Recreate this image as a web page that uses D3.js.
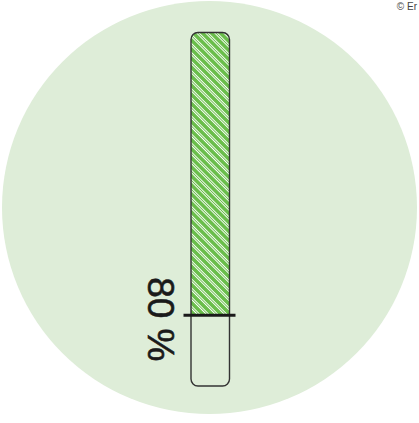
<!DOCTYPE html>
<html>
<head>
<meta charset="utf-8">
<script src="https://cdn.jsdelivr.net/npm/d3@7"></script>
<style>
  html, body { margin: 0; padding: 0; background: #ffffff; overflow: hidden; }
  svg { display: block; }
</style>
</head>
<body>
<svg id="chart" width="419" height="423"></svg>
<script>
// Fill level of the gauge, in percent
const categories = ["Andel"];
const values = [80];
const valueLabels = ["80 %"];
const domainPct = [0, 100];
const credit = "© Er";

const W = 419, H = 423;
const svg = d3.select("#chart");

// Background disc
svg.append("ellipse")
  .attr("cx", 209.5).attr("cy", 207.5)
  .attr("rx", 207.5).attr("ry", 206.5)
  .attr("fill", "#deedd8");

// Diagonal hatch for the filled part
const defs = svg.append("defs");
const pat = defs.append("pattern")
  .attr("id", "hatch")
  .attr("patternUnits", "userSpaceOnUse")
  .attr("width", 6.4).attr("height", 10)
  .attr("patternTransform", "rotate(-45)");
pat.append("rect").attr("width", 6.4).attr("height", 10).attr("fill", "#6abe4b");
pat.append("rect").attr("x", 0).attr("width", 0.9).attr("height", 10).attr("fill", "#ffffff");
pat.append("rect").attr("x", 1.8).attr("width", 0.9).attr("height", 10).attr("fill", "#ffffff");

const barX = d3.scaleBand().domain(categories).range([191, 229.5]).padding(0);
const y = d3.scaleLinear().domain(domainPct).range([32.5, 386]);

const clip = defs.append("clipPath").attr("id", "tube");
clip.append("rect")
  .attr("x", barX(categories[0])).attr("y", y(0))
  .attr("width", barX.bandwidth()).attr("height", y(100) - y(0))
  .attr("rx", 7).attr("ry", 7);

const g = svg.append("g");

// Filled portion (from the top of the tube down to the value)
g.selectAll("rect.fill")
  .data(values)
  .join("rect")
  .attr("class", "fill")
  .attr("clip-path", "url(#tube)")
  .attr("x", (d, i) => barX(categories[i]))
  .attr("y", y(0))
  .attr("width", barX.bandwidth())
  .attr("height", d => y(d) - y(0))
  .attr("fill", "url(#hatch)");

// Tube outline
g.selectAll("rect.tube")
  .data(categories)
  .join("rect")
  .attr("class", "tube")
  .attr("x", d => barX(d)).attr("y", y(0))
  .attr("width", barX.bandwidth()).attr("height", y(100) - y(0))
  .attr("rx", 7).attr("ry", 7)
  .attr("fill", "none")
  .attr("stroke", "#333333")
  .attr("stroke-width", 1.4);

// Level marker
g.selectAll("line.level")
  .data(values)
  .join("line")
  .attr("class", "level")
  .attr("x1", (d, i) => barX(categories[i]) - 7.5)
  .attr("x2", (d, i) => barX(categories[i]) + barX.bandwidth() + 6)
  .attr("y1", d => y(d)).attr("y2", d => y(d))
  .attr("stroke", "#1a1a1a")
  .attr("stroke-width", 3);

// Value label, rotated along the tube
g.selectAll("text.value")
  .data(values)
  .join("text")
  .attr("class", "value")
  .attr("transform", (d, i) => `translate(148,${y(d) + 4}) rotate(90)`)
  .attr("text-anchor", "middle")
  .attr("font-family", "'Liberation Sans', Arial, sans-serif")
  .attr("font-size", 37)
  .attr("fill", "#1a1a1a")
  .attr("stroke", "#1a1a1a")
  .attr("stroke-width", 0.6)
  .text((d, i) => valueLabels[i]);

// Credit line
svg.append("text")
  .attr("x", 417).attr("y", 9.5)
  .attr("text-anchor", "end")
  .attr("font-family", "'Liberation Sans', Arial, sans-serif")
  .attr("font-size", 10)
  .attr("fill", "#444444")
  .text(credit);
</script>
</body>
</html>
